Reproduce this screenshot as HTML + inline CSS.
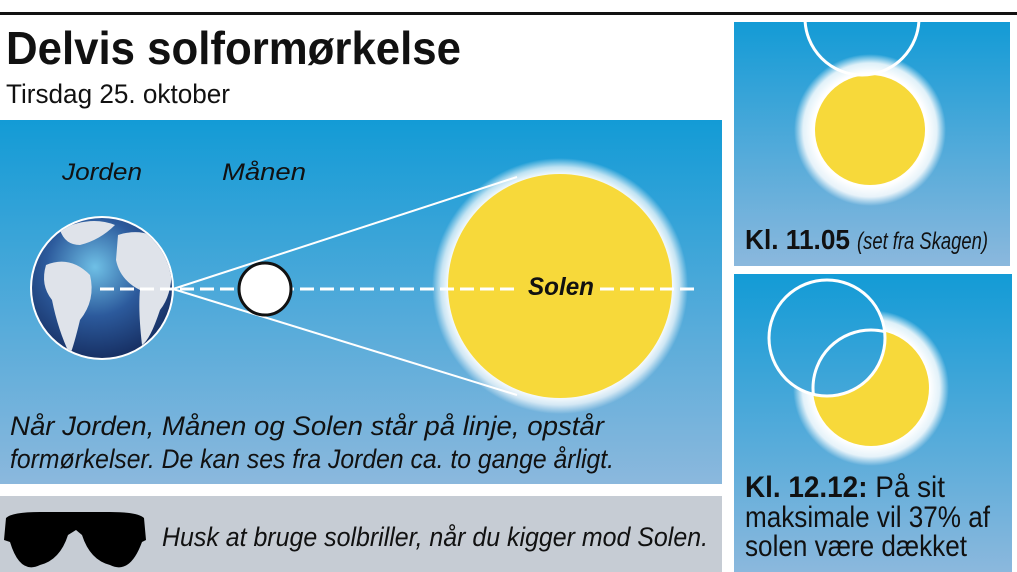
<!DOCTYPE html>
<html><head><meta charset="utf-8"><style>
body{margin:0;width:1017px;height:572px;overflow:hidden;background:#fff;font-family:"Liberation Sans",sans-serif}
</style></head><body>
<svg width="1017" height="572" xmlns="http://www.w3.org/2000/svg" style="position:absolute;left:0;top:0">
<defs>
<linearGradient id="sky" x1="0" y1="0" x2="0" y2="1">
<stop offset="0" stop-color="#139bd6"/><stop offset="1" stop-color="#8bb8dd"/></linearGradient>
<radialGradient id="glow"><stop offset="0.75" stop-color="#fff"/><stop offset="0.88" stop-color="#fff" stop-opacity="0.85"/><stop offset="1" stop-color="#fff" stop-opacity="0"/></radialGradient>
<radialGradient id="glowm"><stop offset="0.86" stop-color="#fff"/><stop offset="0.93" stop-color="#fff" stop-opacity="0.7"/><stop offset="1" stop-color="#fff" stop-opacity="0"/></radialGradient>
<radialGradient id="earth" cx="0.45" cy="0.35" r="0.7"><stop offset="0" stop-color="#6fc0e6"/><stop offset="0.5" stop-color="#2c5a9c"/><stop offset="1" stop-color="#142a5c"/></radialGradient>
<clipPath id="ec"><circle cx="102" cy="288" r="70"/></clipPath>
<clipPath id="p1"><rect x="734" y="22" width="276" height="244"/></clipPath>
<mask id="mm"><rect x="734" y="274" width="278" height="298" fill="#fff"/><circle cx="827" cy="338" r="58" fill="#000"/></mask>
<clipPath id="m2"><circle cx="827" cy="338" r="58"/></clipPath>
</defs>
<rect x="0" y="12" width="1017" height="3" fill="#111"/>
<text x="6" y="64" font-size="46" font-weight="bold" fill="#111" textLength="455" lengthAdjust="spacingAndGlyphs">Delvis solformørkelse</text>
<text x="6" y="103" font-size="27" fill="#111" textLength="224" lengthAdjust="spacingAndGlyphs">Tirsdag 25. oktober</text>
<rect x="0" y="120" width="722" height="364" fill="url(#sky)"/>
<text x="62" y="180" font-size="24" font-style="italic" fill="#111" textLength="80" lengthAdjust="spacingAndGlyphs">Jorden</text>
<text x="222" y="180" font-size="24" font-style="italic" fill="#111" textLength="84" lengthAdjust="spacingAndGlyphs">Månen</text>
<circle cx="560" cy="286" r="128" fill="url(#glowm)"/>
<circle cx="560" cy="286" r="112" fill="#f7d93a"/>
<line x1="173" y1="289" x2="517" y2="177" stroke="#fff" stroke-width="2"/>
<line x1="173" y1="289" x2="517" y2="395" stroke="#fff" stroke-width="2"/>
<circle cx="102" cy="288" r="72" fill="#fff"/>
<circle cx="102" cy="288" r="70" fill="url(#earth)"/>
<g clip-path="url(#ec)" fill="#dfe3ea">
<path d="M46 265 Q70 255 90 275 Q96 300 80 320 Q74 345 70 355 Q58 330 52 300 Q40 285 46 265Z"/>
<path d="M118 235 Q150 225 170 250 Q176 290 160 310 Q150 340 142 345 Q138 310 140 290 Q120 280 116 260Z"/>
<path d="M60 230 Q90 215 115 225 Q100 240 80 245 Q65 245 60 230Z"/>
</g>
<line x1="100" y1="289" x2="700" y2="289" stroke="#fff" stroke-width="3" stroke-dasharray="14,6"/>
<circle cx="265" cy="289" r="26" fill="#fff" stroke="#111" stroke-width="3"/>
<rect x="520" y="272" width="80" height="30" fill="#f7d93a"/>
<text x="528" y="295" font-size="25" font-weight="bold" font-style="italic" fill="#111" textLength="66" lengthAdjust="spacingAndGlyphs">Solen</text>
<text x="10" y="435" font-size="27" font-style="italic" fill="#111" textLength="594" lengthAdjust="spacingAndGlyphs">Når Jorden, Månen og Solen står på linje, opstår</text>
<text x="10" y="468" font-size="27" font-style="italic" fill="#111" textLength="604" lengthAdjust="spacingAndGlyphs">formørkelser. De kan ses fra Jorden ca. to gange årligt.</text>
<rect x="0" y="496" width="722" height="76" fill="#c6ccd4"/>
<path d="M6 518 Q12 512 40 512 L110 512 Q138 512 144 518 L146 540 L142 542 Q130 575 110 565 Q90 560 82 535 L76 530 L68 535 Q60 560 40 565 Q20 575 10 542 L4 540Z" fill="#000"/>
<text x="162" y="546" font-size="27" font-style="italic" fill="#111" textLength="546" lengthAdjust="spacingAndGlyphs">Husk at bruge solbriller, når du kigger mod Solen.</text>
<rect x="734" y="22" width="276" height="244" fill="url(#sky)"/>
<g clip-path="url(#p1)">
<circle cx="870" cy="130" r="76" fill="url(#glow)"/>
<circle cx="870" cy="130" r="55" fill="#f7d93a"/>
<circle cx="862" cy="18" r="57" fill="none" stroke="#fff" stroke-width="3"/>
</g>
<text x="745" y="249" font-size="28" font-weight="bold" fill="#111" textLength="105" lengthAdjust="spacingAndGlyphs">Kl. 11.05</text>
<text x="857" y="249" font-size="24" font-style="italic" fill="#111" textLength="131" lengthAdjust="spacingAndGlyphs">(set fra Skagen)</text>
<rect x="734" y="274" width="278" height="298" fill="url(#sky)"/>
<g mask="url(#mm)">
<circle cx="871" cy="388" r="78" fill="url(#glow)"/>
<circle cx="871" cy="388" r="58" fill="#f7d93a"/>
</g>
<circle cx="871" cy="388" r="58" fill="none" stroke="#fff" stroke-width="3" clip-path="url(#m2)"/>
<circle cx="827" cy="338" r="58" fill="none" stroke="#fff" stroke-width="3"/>
<text x="745" y="497" font-size="30" fill="#111" textLength="200" lengthAdjust="spacingAndGlyphs"><tspan font-weight="bold">Kl. 12.12:</tspan> På sit</text>
<text x="745" y="527" font-size="30" fill="#111" textLength="245" lengthAdjust="spacingAndGlyphs">maksimale vil 37% af</text>
<text x="745" y="556" font-size="30" fill="#111" textLength="222" lengthAdjust="spacingAndGlyphs">solen være dækket</text>
</svg>
</body></html>
